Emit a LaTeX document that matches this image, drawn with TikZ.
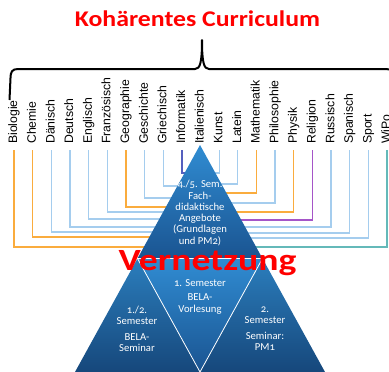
\documentclass[tikz,border=0pt]{standalone}
\usepackage{fontspec}
\setmainfont{Liberation Sans}
\newfontfamily\calib[Numbers=OldStyle]{Carlito}
\usepackage{tikz}

\definecolor{lineorange}{RGB}{250,172,62}
\definecolor{lineblue}{RGB}{165,205,238}
\definecolor{lineindigo}{RGB}{85,95,190}
\definecolor{linepurple}{RGB}{165,85,200}
\definecolor{lineteal}{RGB}{100,185,185}
\definecolor{trilight}{RGB}{48,140,210}
\definecolor{tridark}{RGB}{26,84,145}

\begin{document}
\begin{tikzpicture}[x=1bp,y=-1bp,
  subject/.style={rotate=90,anchor=west,inner sep=0pt,font=\fontsize{12.3}{14}\selectfont,text height=9bp,text depth=2.6bp},
  link/.style={line width=1.3bp},
  semtext/.style={text=white,align=center,inner sep=0pt,font=\calib\fontsize{10.7}{11.3}\selectfont},
  headline/.style={text=red,inner sep=0pt,anchor=base}]

  \path[use as bounding box] (0,0) rectangle (389,372);
  \clip (0,0) rectangle (389,372);

  \node[headline,xscale=1.15,font=\calib\bfseries\fontsize{22.5}{26}\selectfont] (title) at (197.5,26) {Kohärentes Curriculum};

  \draw[line width=2bp,line join=round] (9.5,100) -- (10.5,78) .. controls (10.5,72) and (12,69) .. (18,69)
    -- (195,69) .. controls (200,69) and (202,63) .. (202,40)
    .. controls (202,63) and (204,69) .. (209,69) -- (386,69)
    .. controls (392,69) and (393.5,72) .. (393.5,78) -- (394.5,100);

  \foreach \id/\name/\xx/\yy/\col in {
      bio/Biologie/0/247/lineorange, che/Chemie/1/237/lineorange,
      dae/Dänisch/2/232/lineblue, deu/Deutsch/3/227/lineblue,
      eng/Englisch/4/219/lineblue, fra/Französisch/5/212/lineblue,
      geo/Geographie/6/207/lineorange, ges/Geschichte/7/198/lineblue,
      gri/Griechisch/8/186/lineblue, inf/Informatik/9/173/lineindigo,
      kun/Kunst/11/173/lineblue, lat/Latein/12/184/lineblue,
      mat/Mathematik/13/193/lineorange, phi/Philosophie/14/203/lineblue,
      phy/Physik/15/212/lineorange, rel/Religion/16/220/linepurple,
      rus/Russisch/17/227/lineblue, spa/Spanisch/18/233/lineblue,
      spo/Sport/19/238/lineblue, wip/WiPo/20/247/lineteal} {
    \node[subject] (\id) at (14+18.65*\xx,144) {\name};
    \coordinate (\id-end) at (200,\yy);
    \draw[link,\col] ([yshift=-6bp]\id.west) |- (\id-end);
  }
  \node[subject] (ita) at (14+18.65*10,144) {Italienisch};

  \coordinate (apex) at (200,145);
  \coordinate (baseL) at (75,372);
  \coordinate (baseR) at (325,372);
  \coordinate (midL) at (137.5,258.5);
  \coordinate (midR) at (262.5,258.5);
  \coordinate (midB) at (200,372);

  \shade[top color=trilight,bottom color=tridark] (apex) -- (midR) -- (midL) -- cycle;
  \shade[top color=trilight!90!black,bottom color=tridark!85!black] (midL) -- (midB) -- (baseL) -- cycle;
  \shade[top color=trilight!90!black,bottom color=tridark!85!black] (midR) -- (baseR) -- (midB) -- cycle;
  \shade[top color=trilight,bottom color=tridark] (midL) -- (midR) -- (midB) -- cycle;
  \draw[white,line width=0.8bp] (midL) -- (midR) -- (midB) -- cycle;

  \node[semtext] (fach) at (200,213) {4./5. Sem.\\Fach-\\didaktische\\Angebote\\(Grundlagen\\und PM2)};
  \node[semtext] (vorl) at (200,296.5) {1. Semester\\[3.5bp]BELA-\\Vorlesung};
  \node[semtext] (bsem) at (137,329) {1./2.\\Semester\\[4.5bp]BELA-\\Seminar};
  \node[semtext] (pmeins) at (265,329) {2.\\Semester\\[4.5bp]Seminar:\\PM1};

  \node[headline,xscale=1.22,font=\calib\bfseries\fontsize{31}{35}\selectfont] (vernetzung) at (207.5,270) {Vernetzung};
\end{tikzpicture}
\end{document}
